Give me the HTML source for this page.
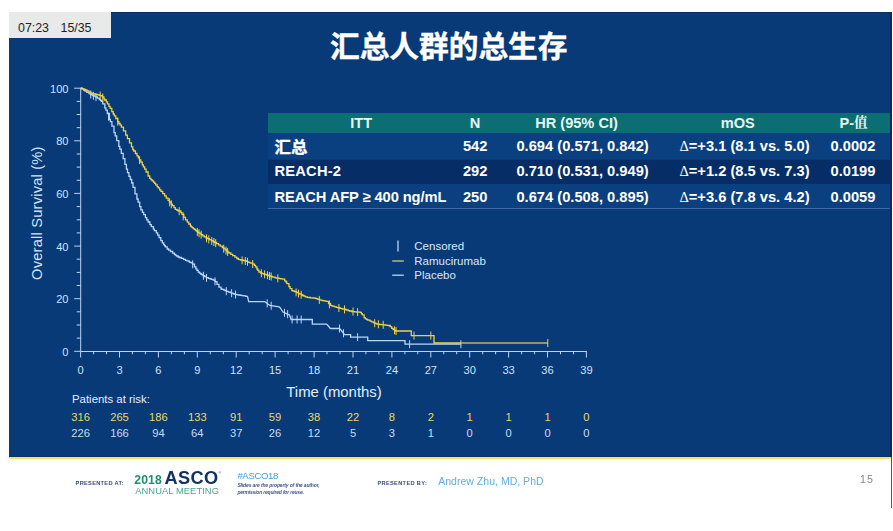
<!DOCTYPE html>
<html lang="zh">
<head>
<meta charset="utf-8">
<title>汇总人群的总生存</title>
<style>
html,body{margin:0;padding:0;}
body{width:893px;height:531px;background:#fff;position:relative;overflow:hidden;font-family:"Liberation Sans","Noto Sans CJK SC",sans-serif;}
.abs{position:absolute;white-space:nowrap;line-height:1;}
.slide{position:absolute;left:9px;top:12px;width:883px;height:445px;background:#083a78;}
.slide:before{content:"";position:absolute;left:0;top:0;right:0;height:1px;background:#0a2f63;}
.slide i{position:absolute;left:0;right:0;bottom:0;height:1px;background:#0a3268;}
.slide:after{content:"";position:absolute;right:0;top:0;bottom:0;width:2px;background:#10295a;}
.yline{position:absolute;left:9px;top:457px;width:882px;height:2px;background:#f7e266;}
.vline{position:absolute;left:891px;top:457px;width:1px;height:51px;background:#5a5a5a;}
.badge{position:absolute;left:9px;top:12px;width:102px;height:26px;background:#e8e9e9;}
.badge span{position:absolute;top:10px;font-size:12.4px;color:#222;line-height:1;}
.title{-webkit-text-stroke:0.4px #fff;left:330px;top:32px;font-size:29.7px;font-weight:bold;color:#fff;font-family:"Liberation Sans","Noto Sans CJK SC",sans-serif;letter-spacing:0;}
.row{position:absolute;left:268px;width:622px;}
.th{top:113px;height:19.8px;background:#0b6e73;}
.r1{top:132.8px;height:26.7px;background:#0a3f80;}
.r2{top:159.5px;height:24.5px;background:#062d65;}
.r3{top:184px;height:24px;background:#0a3f80;}
.rl{top:208px;height:1px;background:#3d6aa6;}
.t{position:absolute;white-space:nowrap;line-height:1;font-weight:bold;font-size:14.7px;color:#fff;}
.h{color:#e6f6f2;font-size:14.6px;}
.c{transform:translateX(-50%);}
.delta{font-weight:normal;font-family:"Liberation Serif","DejaVu Serif",serif;font-size:14.5px;}
.chart{position:absolute;left:0;top:0;}
.pres{font-size:6.1px;font-weight:bold;color:#2a4170;letter-spacing:0.85px;}
</style>
</head>
<body>
<div id="stage" style="position:absolute;left:0;top:0;width:893px;height:531px;filter:blur(0.45px)">
<div class="slide"><i></i></div>
<div class="yline"></div>
<div class="vline"></div>
<div class="badge"><span style="left:9px">07:23</span><span style="left:51.5px">15/35</span></div>
<div class="abs title">汇总人群的总生存</div>

<div class="row th"></div><div class="row r1"></div><div class="row r2"></div><div class="row r3"></div><div class="row rl"></div>

<div class="t h c" style="left:361.2px;top:115.6px">ITT</div>
<div class="t h c" style="left:475px;top:115.6px">N</div>
<div class="t h c" style="left:576.5px;top:115.6px">HR (95% CI)</div>
<div class="t h c" style="left:737.7px;top:115.6px">mOS</div>
<div class="t h c" style="left:853.6px;top:115.6px">P-<span style="font-family:'Noto Serif CJK SC',serif;font-size:13.6px;position:relative;top:-0.4px">值</span></div>

<div class="t" style="left:274.5px;top:137.8px;font-size:16.4px;font-family:'Noto Sans CJK SC',sans-serif;-webkit-text-stroke:0.35px #fff">汇总</div>
<div class="t" style="left:274.5px;top:164.3px;letter-spacing:0.2px">REACH-2</div>
<div class="t" style="left:274.5px;top:189.7px;letter-spacing:-0.09px">REACH AFP ≥ 400 ng/mL</div>

<div class="t c" style="left:475.2px;top:138.8px">542</div>
<div class="t c" style="left:475.2px;top:164.3px">292</div>
<div class="t c" style="left:475.2px;top:189.7px">250</div>

<div class="t c" style="left:582.6px;top:138.8px">0.694 (0.571, 0.842)</div>
<div class="t c" style="left:582.6px;top:164.3px">0.710 (0.531, 0.949)</div>
<div class="t c" style="left:582.6px;top:189.7px">0.674 (0.508, 0.895)</div>

<div class="t c" style="left:744.5px;top:138.8px"><span class="delta">Δ</span>=+3.1 (8.1 vs. 5.0)</div>
<div class="t c" style="left:744.5px;top:164.3px"><span class="delta">Δ</span>=+1.2 (8.5 vs. 7.3)</div>
<div class="t c" style="left:744.5px;top:189.7px"><span class="delta">Δ</span>=+3.6 (7.8 vs. 4.2)</div>

<div class="t c" style="left:853px;top:138.8px">0.0002</div>
<div class="t c" style="left:853px;top:164.3px">0.0199</div>
<div class="t c" style="left:853px;top:189.7px">0.0059</div>

<svg class="chart" width="893" height="531" viewBox="0 0 893 531">
<g fill="none" stroke="#bdd3f1" stroke-width="1"><path d="M80.7,87.7V351.5H586.9"/><path d="M74.2,351.3H80.7M76.7,338.1H80.7M76.7,325.0H80.7M76.7,311.8H80.7M74.2,298.7H80.7M76.7,285.5H80.7M76.7,272.4H80.7M76.7,259.2H80.7M74.2,246.1H80.7M76.7,232.9H80.7M76.7,219.8H80.7M76.7,206.6H80.7M74.2,193.4H80.7M76.7,180.3H80.7M76.7,167.1H80.7M76.7,154.0H80.7M74.2,140.8H80.7M76.7,127.7H80.7M76.7,114.5H80.7M76.7,101.4H80.7M74.2,88.2H80.7M80.6,351.5V357.5M93.6,351.5V354.3M106.5,351.5V354.3M119.5,351.5V357.5M132.5,351.5V354.3M145.4,351.5V354.3M158.4,351.5V357.5M171.4,351.5V354.3M184.4,351.5V354.3M197.3,351.5V357.5M210.3,351.5V354.3M223.3,351.5V354.3M236.2,351.5V357.5M249.2,351.5V354.3M262.2,351.5V354.3M275.1,351.5V357.5M288.1,351.5V354.3M301.1,351.5V354.3M314.1,351.5V357.5M327.0,351.5V354.3M340.0,351.5V354.3M353.0,351.5V357.5M365.9,351.5V354.3M378.9,351.5V354.3M391.9,351.5V357.5M404.9,351.5V354.3M417.8,351.5V354.3M430.8,351.5V357.5M443.8,351.5V354.3M456.7,351.5V354.3M469.7,351.5V357.5M482.7,351.5V354.3M495.6,351.5V354.3M508.6,351.5V357.5M521.6,351.5V354.3M534.6,351.5V354.3M547.5,351.5V357.5M560.5,351.5V354.3M573.5,351.5V354.3M586.4,351.5V357.5"/></g>
<g font-family="Liberation Sans, Arial, sans-serif" font-size="11.1" fill="#d3e3f7"><text x="68.5" y="355.7" text-anchor="end">0</text><text x="68.5" y="303.1" text-anchor="end">20</text><text x="68.5" y="250.5" text-anchor="end">40</text><text x="68.5" y="197.8" text-anchor="end">60</text><text x="68.5" y="145.2" text-anchor="end">80</text><text x="68.5" y="92.6" text-anchor="end">100</text><text x="80.6" y="373.6" text-anchor="middle">0</text><text x="119.5" y="373.6" text-anchor="middle">3</text><text x="158.4" y="373.6" text-anchor="middle">6</text><text x="197.3" y="373.6" text-anchor="middle">9</text><text x="236.2" y="373.6" text-anchor="middle">12</text><text x="275.1" y="373.6" text-anchor="middle">15</text><text x="314.1" y="373.6" text-anchor="middle">18</text><text x="353.0" y="373.6" text-anchor="middle">21</text><text x="391.9" y="373.6" text-anchor="middle">24</text><text x="430.8" y="373.6" text-anchor="middle">27</text><text x="469.7" y="373.6" text-anchor="middle">30</text><text x="508.6" y="373.6" text-anchor="middle">33</text><text x="547.5" y="373.6" text-anchor="middle">36</text><text x="586.4" y="373.6" text-anchor="middle">39</text></g>
<g fill="none" stroke="#b9d6fb" stroke-width="1.3" stroke-linejoin="miter"><path d="M80.8,88.2H81.7V88.8H83.6V90.1H85.0V91.0H86.8V92.3H89.0V93.6H90.5V94.4H92.0V95.1H93.0V95.6H94.1V96.2H95.6V97.0H97.4V98.1H99.3V99.6H100.6V100.5H101.5V101.4H102.7V103.8H104.8V107.9H105.9V110.1H107.3V113.5H109.4V119.3H110.3V121.7H111.9V126.2H114.0V132.6H115.2V135.9H116.7V140.6H118.8V146.4H119.8V149.1H121.3V153.3H123.2V158.7H124.9V164.3H126.4V169.1H127.5V172.6H128.9V176.4H130.3V179.5H131.7V183.0H133.0V187.3H135.0V193.9H136.9V199.0H138.1V202.1H139.7V206.7H140.9V209.8H142.4V212.3H143.7V214.7H145.4V217.7H146.7V219.8H148.1V222.0H149.9V224.7H151.3V226.7H153.4V229.2H154.4V230.6H156.3V232.8H157.7V235.2H159.1V237.6H160.8V240.6H162.3V242.9H163.7V244.7H164.5V245.7H165.4V246.9H167.2V249.0H168.7V250.2H170.5V251.5H172.6V253.1H174.4V254.4H175.3V255.1H176.5V256.0H178.1V257.0H179.3V257.5H181.4V258.4H183.5V259.4H185.5V260.3H187.0V260.9H189.0V261.9H189.9V262.3H191.2V262.9H192.6V264.2H194.5V266.8H195.9V268.9H196.9V270.3H198.2V272.1H199.5V273.2H200.7V274.0H201.7V274.7H203.1V275.6H204.5V276.5H206.4V277.7H208.3V278.4H209.9V278.9H211.3V279.4H213.2V280.1H215.2V281.7H217.0V284.4H218.9V287.2H221.0V289.0H221.9V289.3H223.9V290.2H225.1V290.7H226.6V291.4H228.5V292.1H230.3V292.7H231.3V293.1H233.0V293.6H233.9V294.0H235.2V294.4H237.1V294.8H238.5V295.0H240.2V295.3H242.0V295.6H243.9V295.9H245.8V296.3H246.1V296.3L247.5,296.3L248.7,301.6L264.6,301.6L266.0,302.5L269.8,305.5L279.1,306.9L280.0,307.5L283.0,312.1L288.1,314.4L289.5,315.0L291.1,319.5L312.3,319.5L312.3,324.1L326.4,324.1L327.5,325.0L330.4,328.5L339.5,328.5L341.0,330.0L344.5,334.6L350.6,334.6L350.6,337.2L367.7,337.2L367.7,340.7L405.0,340.7L405.0,344.2L460.9,344.2"/><path stroke-width="1" d="M192.7,260.3V268.3M90.7,90.5V98.5M93.4,91.8V99.8M96.0,93.1V101.1M108.5,112.7V120.7M203.4,271.8V279.8M206.5,273.8V281.8M215.0,277.4V285.4M226.3,287.2V295.2M231.6,289.2V297.2M235.5,290.5V298.5M267.2,299.4V307.4M271.2,301.7V309.7M284.5,308.8V316.8M287.6,310.2V318.2M292.1,315.5V323.5M297.1,315.5V323.5M301.2,315.5V323.5M339.5,324.5V332.5M343.5,329.3V337.3M357.6,333.2V341.2M409.6,340.2V348.2M460.9,340.2V348.2"/></g>
<g fill="none" stroke="#efd144" stroke-width="1.3" stroke-linejoin="miter"><path d="M80.8,88.2H82.4V88.8H84.2V89.5H85.4V89.9H86.9V90.8H88.9V92.1H91.0V93.2H92.0V93.5H93.1V93.8H93.9V94.0H95.3V94.3H96.2V94.5H97.6V94.9H99.3V95.3H100.5V95.6H102.3V96.9H103.9V98.9H104.7V100.0H106.3V101.9H107.5V103.8H108.9V106.3H110.1V108.4H111.8V111.6H113.2V114.0H114.3V115.8H115.8V118.5H117.7V121.7H118.9V123.5H120.1V125.2H121.4V127.2H123.5V130.8H125.7V135.2H127.4V138.6H129.5V142.8H131.5V146.8H132.8V149.5H133.7V151.0H135.4V153.5H137.0V155.9H138.3V157.8H139.4V159.8H140.8V162.2H142.3V164.8H143.4V166.8H144.7V169.2H146.1V172.0H148.1V176.0H149.7V178.4H150.9V179.6H152.1V180.8H153.5V182.2H154.6V183.4H155.7V184.8H157.2V186.7H158.2V187.9H159.6V189.8H160.9V191.4H162.7V193.6H164.6V195.9H166.3V198.1H168.1V200.3H169.4V202.0H171.2V204.2H172.4V205.7H174.0V207.7H175.3V209.3H176.7V210.0H177.6V210.5H178.7V211.0H180.9V212.6H182.0V214.4H183.8V217.3H185.5V219.8H187.3V222.1H188.8V224.0H190.4V226.0H191.3V226.9H192.2V227.7H193.3V228.6H194.3V229.4H195.3V230.2H196.2V231.0H197.8V232.3H198.9V233.2H201.0V234.6H202.8V235.8H204.3V236.8H206.1V238.0H207.3V238.7H209.4V239.7H211.3V240.7H213.2V241.6H214.6V242.4H216.6V243.7H218.5V244.9H220.2V246.1H222.3V247.5H223.9V248.9H225.3V249.9H226.8V251.2H227.9V252.1H229.0V253.0H230.8V254.4H232.7V255.7H234.9V257.2H236.8V258.5H238.4V259.4H239.3V259.7H240.8V260.0H242.9V260.5H244.8V260.9H246.3V261.3H247.7V261.9H248.8V262.4H249.9V262.8H250.8V263.2H252.8V264.1H254.5V265.4H255.5V266.9H256.9V269.0H257.8V270.3H258.9V272.0H260.7V273.1H262.4V273.6H263.9V274.1H265.1V274.5H266.8V275.1H268.9V275.8H270.3V276.2H271.2V276.5H272.1V276.8H273.0V277.1H275.2V277.8H276.7V278.1H278.7V278.4H279.7V278.6H280.9V278.8H282.7V279.1H284.7V280.9H286.0V282.2H286.9V283.6H288.9V286.7H290.1V288.6H291.9V290.6H293.0V291.0H294.7V291.7H296.7V292.6H298.5V293.5H299.8V294.1H301.7V295.0H302.7V295.5H303.9V296.1H305.3V296.8H307.3V297.4H308.3V297.5H310.4V297.8H312.3V298.0H314.4V298.2H315.7V298.5H316.8V298.9H318.0V299.4H319.9V300.2H322.1V300.6H323.9V300.9H325.3V301.1H326.5V301.4H328.5V303.5H330.5V305.4H331.5V305.8H332.6V306.1H334.5V306.8H336.5V307.4H337.7V307.7H338.9V308.0H340.3V308.4H341.9V308.8H342.8V309.0H344.8V309.5H346.4V310.0H348.2V310.6H349.4V311.0H351.5V311.5H353.4V311.7H354.6V311.8H356.8V312.0H358.6V312.2H360.5V312.4H361.4V313.6H362.3V314.9H364.1V317.6H365.3V318.8H366.9V319.6H367.9V320.1H370.0V321.2H371.6V321.9H373.5V322.7H374.4V323.1H375.9V323.7H376.8V324.1H378.8V324.3H380.2V324.5H381.1V324.6H382.0V324.7H383.6V324.9H384.5V325.0H385.6V325.1H387.0V325.3H388.5V325.5H390.1V326.7H391.7V328.4H393.1V329.6H394.7V330.4H395.8V330.9H395.9V331.0L411.3,331.0L411.3,335.6L434.0,335.6L434.0,343.0L461.0,343.0"/><path stroke="#bdb45e" d="M461,343H547.8"/><path stroke-width="1" d="M208.8,235.4V243.4M213.9,238.0V246.0M226.0,246.6V254.6M247.5,257.8V265.8M267.5,271.3V279.3M269.5,272.0V280.0M100.2,91.5V99.5M102.8,93.5V101.5M117.7,117.6V125.6M139.6,156.1V164.1M171.3,200.3V208.3M179.2,207.2V215.2M183.2,212.4V220.4M169.6,198.2V206.2M197.3,227.9V235.9M199.0,229.3V237.3M201.2,230.7V238.7M206.5,234.3V242.3M211.8,236.9V244.9M215.7,239.1V247.1M223.7,244.7V252.7M227.6,247.9V255.9M242.1,256.3V264.3M245.3,257.0V265.0M252.7,260.0V268.0M261.4,269.3V277.3M264.6,270.3V278.3M271.2,272.5V280.5M277.8,274.3V282.3M296.1,288.3V296.3M298.5,289.5V297.5M301.2,290.8V298.8M319.3,295.9V303.9M329.4,300.4V308.4M338.9,304.0V312.0M344.5,305.4V313.4M353.0,307.6V315.6M357.6,308.1V316.1M374.7,319.2V327.2M378.4,320.3V328.3M383.2,320.8V328.8M394.5,326.3V334.3M396.1,327.0V335.0M414.0,331.6V339.6M430.8,331.6V339.6M547.8,339.0V347.0"/></g>
<text transform="translate(42.2,213.2) rotate(-90)" text-anchor="middle" textLength="133.4" lengthAdjust="spacing" font-family="Liberation Sans, Arial, sans-serif" font-size="14.7" fill="#d3e3f7">Overall Survival (%)</text>
<text x="334" y="397" text-anchor="middle" font-family="Liberation Sans, Arial, sans-serif" font-size="14.9" fill="#e4eefb">Time (months)</text>
<text x="72" y="402.8" font-family="Liberation Sans, Arial, sans-serif" font-size="11.4" fill="#e4eefb">Patients at risk:</text>
<g font-family="Liberation Sans, Arial, sans-serif" font-size="11.2" fill="#e9d86c"><text x="80.6" y="421" text-anchor="middle">316</text><text x="119.5" y="421" text-anchor="middle">265</text><text x="158.4" y="421" text-anchor="middle">186</text><text x="197.3" y="421" text-anchor="middle">133</text><text x="236.2" y="421" text-anchor="middle">91</text><text x="275.1" y="421" text-anchor="middle">59</text><text x="314.1" y="421" text-anchor="middle">38</text><text x="353.0" y="421" text-anchor="middle">22</text><text x="391.9" y="421" text-anchor="middle">8</text><text x="430.8" y="421" text-anchor="middle">2</text><text x="469.7" y="421" text-anchor="middle">1</text><text x="508.6" y="421" text-anchor="middle">1</text><text x="547.5" y="421" text-anchor="middle">1</text><text x="586.4" y="421" text-anchor="middle">0</text></g>
<g font-family="Liberation Sans, Arial, sans-serif" font-size="11.2" fill="#c9dcf5"><text x="80.6" y="436.7" text-anchor="middle">226</text><text x="119.5" y="436.7" text-anchor="middle">166</text><text x="158.4" y="436.7" text-anchor="middle">94</text><text x="197.3" y="436.7" text-anchor="middle">64</text><text x="236.2" y="436.7" text-anchor="middle">37</text><text x="275.1" y="436.7" text-anchor="middle">26</text><text x="314.1" y="436.7" text-anchor="middle">12</text><text x="353.0" y="436.7" text-anchor="middle">5</text><text x="391.9" y="436.7" text-anchor="middle">3</text><text x="430.8" y="436.7" text-anchor="middle">1</text><text x="469.7" y="436.7" text-anchor="middle">0</text><text x="508.6" y="436.7" text-anchor="middle">0</text><text x="547.5" y="436.7" text-anchor="middle">0</text><text x="586.4" y="436.7" text-anchor="middle">0</text></g>
<g fill="none" stroke-width="1.3"><path stroke="#b9d6fb" d="M398,240.5V251.5"/><path stroke="#c3d27a" d="M392.2,261H403.8"/><path stroke="#b9d6fb" d="M392.2,275.2H403.8"/></g>
<g font-family="Liberation Sans, Arial, sans-serif" font-size="11.5" fill="#dbe8fa"><text x="414.3" y="250.4">Censored</text><text x="414.3" y="264.8">Ramucirumab</text><text x="414.3" y="279">Placebo</text></g>
</svg>

<svg class="chart" width="893" height="531" viewBox="0 0 893 531" font-family="Liberation Sans, Arial, sans-serif">
<text x="75.6" y="485.2" font-size="5.7" font-weight="bold" fill="#3a4b7e" textLength="47.8" lengthAdjust="spacing">PRESENTED AT:</text>
<text x="134.2" y="483.9" font-size="12.2" font-weight="bold" fill="#1f8d6e" textLength="27.6" lengthAdjust="spacing">2018</text>
<text x="164.5" y="484" font-size="18.2" font-weight="bold" fill="#12306a" textLength="53.6" lengthAdjust="spacing">ASCO</text>
<text x="218.6" y="473.6" font-size="3.2" fill="#12306a">®</text>
<text x="135.2" y="494.4" font-size="9.4" fill="#48a68c" textLength="83.8" lengthAdjust="spacing">ANNUAL MEETING</text>
<text x="237.4" y="479.4" font-size="9.6" fill="#3f9ddc" textLength="41" lengthAdjust="spacing">#ASCO18</text>
<text x="237.4" y="487.3" font-size="5" font-style="italic" font-weight="bold" fill="#44558a" textLength="82.2" lengthAdjust="spacing">Slides are the property of the author,</text>
<text x="237.4" y="493.6" font-size="5" font-style="italic" font-weight="bold" fill="#44558a" textLength="66.5" lengthAdjust="spacing">permission required for reuse.</text>
<text x="377.4" y="485.2" font-size="5.7" font-weight="bold" fill="#3a4b7e" textLength="49.4" lengthAdjust="spacing">PRESENTED BY:</text>
<text x="438.2" y="485.4" font-size="10.5" fill="#62ade4" textLength="105.4" lengthAdjust="spacing">Andrew Zhu, MD, PhD</text>
<text x="860" y="482.9" font-size="10.6" fill="#868686" textLength="13" lengthAdjust="spacing">15</text>
</svg>
</div>
</body>
</html>
